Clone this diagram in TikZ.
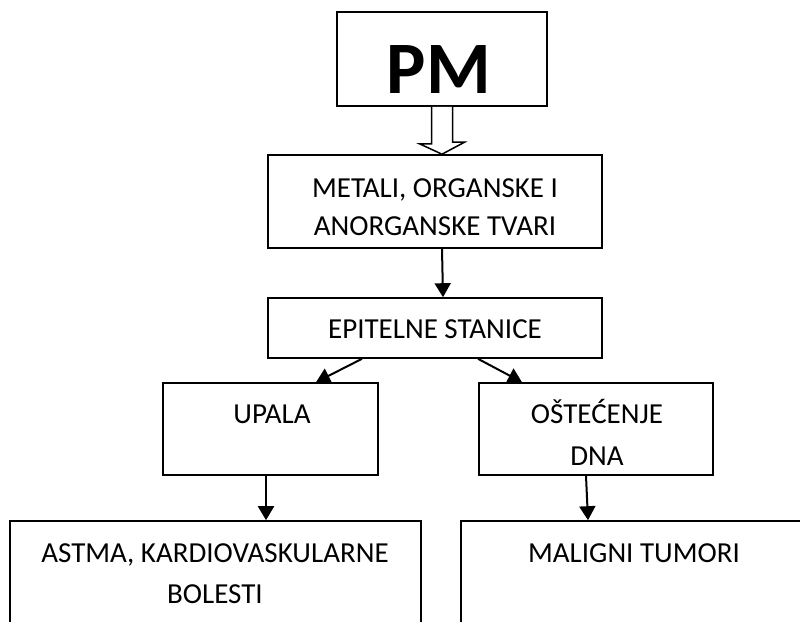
\documentclass[tikz,border=0pt]{standalone}
\usepackage{fontspec}
\setmainfont{Carlito}
\usetikzlibrary{arrows.meta}

\begin{document}
\begin{tikzpicture}[x=1pt, y=-1pt,
  box/.style={draw, line width=1.6pt, inner sep=0pt},
  txt/.style={font=\fontsize{29}{40}\selectfont, align=center, anchor=base, inner sep=0pt},
  link/.style={-{Triangle[length=14pt, width=16pt]}, line width=2pt}
]
\useasboundingbox (0,0) rectangle (800,621);
\clip (0,0) rectangle (800,621);

% boxes
\node[box, minimum width=210, minimum height=94] (pm) at (442,59) {};
\node[box, minimum width=334, minimum height=93] (metali) at (435,201.5) {};
\node[box, minimum width=334, minimum height=60] (epi) at (435,328) {};
\node[box, minimum width=215, minimum height=92] (upala) at (270.5,429) {};
\node[box, minimum width=234, minimum height=92] (ostec) at (596,429) {};
\node[box, minimum width=411, minimum height=179] (astma) at (215.5,610.5) {};
\node[box, minimum width=346, minimum height=179] (maligni) at (634,610.5) {};

% texts (base = last line)
\node[txt, font=\fontsize{74}{80}\selectfont\bfseries] (pmtxt) at (439,93) {PM};
\node[txt, font=\fontsize{29}{38}\selectfont] (metalitxt) at (435,235) {METALI, ORGANSKE I\\ANORGANSKE TVARI};
\node[txt] (epitxt) at (435,338) {EPITELNE STANICE};
\node[txt] (upalatxt) at (272,423) {UPALA};
\node[txt, font=\fontsize{29}{42}\selectfont] (ostectxt) at (597,465) {OŠTEĆENJE\\DNA};
\node[txt, font=\fontsize{29}{41}\selectfont] (astmatxt) at (215,603) {ASTMA, KARDIOVASKULARNE\\BOLESTI};
\node[txt] (malignitxt) at (634,562) {MALIGNI TUMORI};

% hollow arrow
\draw[line width=1.5pt, fill=white, line join=miter]
  ([xshift=-10.5]pm.south) -- ++(0,37) -- ++(-12,0) -- (pm.south |- metali.north)
  -- ++(22.5,-12) -- ++(-12,0) -- ([xshift=10.5]pm.south);

% arrows
\draw[link] ([xshift=7]metali.south) -- ([xshift=8]epi.north);
\draw[link] ([xshift=-73]epi.south) -- ([xshift=45.5]upala.north);
\draw[link] ([xshift=43]epi.south) -- ([xshift=-74]ostec.north);
\draw[link] ([xshift=-4.5]upala.south) -- ([xshift=50.5]astma.north);
\draw[link] ([xshift=-10]ostec.south) -- ([xshift=-46]maligni.north);
\end{tikzpicture}
\end{document}
